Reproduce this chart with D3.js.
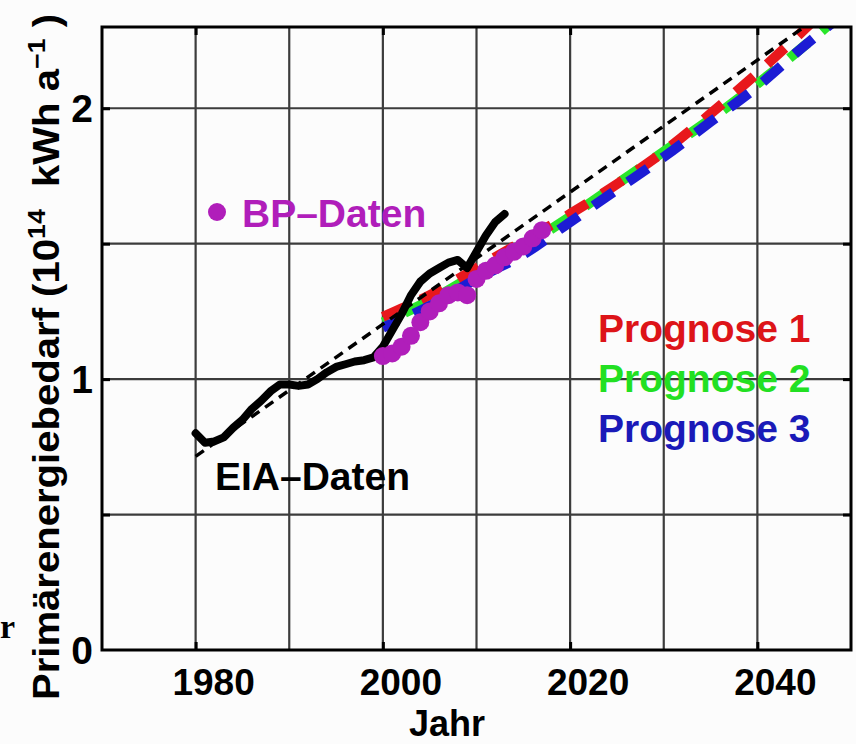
<!DOCTYPE html>
<html>
<head>
<meta charset="utf-8">
<script src="https://cdn.jsdelivr.net/npm/d3@7"></script>
<style>
  body { margin: 0; background: #fcfcfc; }
  text { font-family: "Liberation Sans", Arial, Helvetica, sans-serif; font-weight: bold; }
</style>
</head>
<body>
<div id="chart"></div>
<script>
// Variables
var svgW = 856;
var svgH = 744;

// EIA data (black line)
var eiaYears = [1980, 1981, 1982, 1983, 1984, 1985, 1986, 1987, 1988, 1989,
                1990, 1991, 1992, 1993, 1994, 1995, 1996, 1997, 1998, 1999,
                2000, 2001, 2002, 2003, 2004, 2005, 2006, 2007, 2008, 2009,
                2010, 2011, 2012, 2013];
var eiaValues = [0.80, 0.765, 0.77, 0.785, 0.82, 0.85, 0.89, 0.92, 0.955, 0.98,
                 0.98, 0.975, 0.98, 1.00, 1.025, 1.045, 1.055, 1.065, 1.07, 1.08,
                 1.12, 1.18, 1.24, 1.31, 1.36, 1.39, 1.41, 1.43, 1.44, 1.41,
                 1.47, 1.53, 1.58, 1.61];

// BP data (magenta dots)
var bpYears = [2000, 2001, 2002, 2003, 2004, 2005, 2006, 2007, 2008,
               2009, 2010, 2011, 2012, 2013, 2014, 2015, 2016, 2017];
var bpValues = [1.085, 1.095, 1.12, 1.16, 1.21, 1.25, 1.28, 1.31, 1.32,
                1.31, 1.37, 1.40, 1.42, 1.45, 1.47, 1.49, 1.52, 1.55];

// linear trend (thin dashed)
var trendYears = [1980, 2045];
var trendValues = [0.715, 2.30];

// forecasts
var progYears = [2000, 2005, 2010, 2015, 2020, 2025, 2030, 2035, 2040, 2045, 2050];
var prog1 = [1.23, 1.31, 1.41, 1.51, 1.61, 1.72, 1.84, 1.98, 2.13, 2.29, 2.46];
var prog2 = [1.21, 1.29, 1.39, 1.49, 1.60, 1.72, 1.84, 1.96, 2.09, 2.23, 2.38];
var prog3 = [1.19, 1.27, 1.37, 1.46, 1.58, 1.70, 1.82, 1.95, 2.08, 2.23, 2.37];

// axis ticks
var xLabelTicks = [1980, 2000, 2020, 2040];
var xGridTicks = [1980, 1990, 2000, 2010, 2020, 2030, 2040];
var yLabelTicks = [0, 1, 2];
var yGridTicks = [0.5, 1, 1.5, 2];

// scales
var x = d3.scaleLinear().domain([1970, 2050]).range([102, 851]);
var y = d3.scaleLinear().domain([0, 2.3]).range([650, 27]);

var svg = d3.select('#chart').append('svg')
    .attr('width', svgW)
    .attr('height', svgH)
    .style('background', '#fcfcfc');

svg.append('clipPath').attr('id', 'plotClip')
  .append('rect')
    .attr('x', x(1970)).attr('y', y(2.3))
    .attr('width', x(2050) - x(1970)).attr('height', y(0) - y(2.3));

// grid lines
svg.append('g').selectAll('line')
    .data(xGridTicks)
    .enter().append('line')
        .attr('x1', function (d) { return x(d); })
        .attr('x2', function (d) { return x(d); })
        .attr('y1', y(0)).attr('y2', y(2.3))
        .attr('stroke', '#3c3c3c').attr('stroke-width', 2.2);

svg.append('g').selectAll('line')
    .data(yGridTicks)
    .enter().append('line')
        .attr('y1', function (d) { return y(d); })
        .attr('y2', function (d) { return y(d); })
        .attr('x1', x(1970)).attr('x2', x(2050))
        .attr('stroke', '#3c3c3c').attr('stroke-width', 2.2);

// inward ticks on the frame via d3 axes
var tickLen = -8;
svg.append('g').attr('transform', 'translate(0,' + y(0) + ')')
    .call(d3.axisBottom(x).tickValues(xLabelTicks).tickSize(tickLen).tickFormat(''))
    .call(function (g) { g.select('.domain').remove(); })
    .selectAll('line').attr('stroke', '#000').attr('stroke-width', 3);
svg.append('g').attr('transform', 'translate(0,' + y(2.3) + ')')
    .call(d3.axisTop(x).tickValues(xLabelTicks).tickSize(tickLen).tickFormat(''))
    .call(function (g) { g.select('.domain').remove(); })
    .selectAll('line').attr('stroke', '#000').attr('stroke-width', 3);
svg.append('g').attr('transform', 'translate(' + x(1970) + ',0)')
    .call(d3.axisLeft(y).tickValues(yGridTicks).tickSize(tickLen).tickFormat(''))
    .call(function (g) { g.select('.domain').remove(); })
    .selectAll('line').attr('stroke', '#000').attr('stroke-width', 3);
svg.append('g').attr('transform', 'translate(' + x(2050) + ',0)')
    .call(d3.axisRight(y).tickValues(yGridTicks).tickSize(tickLen).tickFormat(''))
    .call(function (g) { g.select('.domain').remove(); })
    .selectAll('line').attr('stroke', '#000').attr('stroke-width', 3);

// plot layer
var plot = svg.append('g').attr('clip-path', 'url(#plotClip)');

var progLine = d3.line()
    .x(function (d) { return x(d[0]); })
    .y(function (d) { return y(d[1]); })
    .curve(d3.curveMonotoneX);

var progs = [
    { values: prog2, color: '#2ae62a', offset: 18 },
    { values: prog1, color: '#e8181c', offset: 0 },
    { values: prog3, color: '#1c1cd4', offset: 8 }
];
progs.forEach(function (p) {
    plot.append('path')
        .datum(progYears.map(function (yr, i) { return [yr, p.values[i]]; }))
        .attr('d', progLine)
        .attr('fill', 'none')
        .attr('stroke', p.color)
        .attr('stroke-width', 10)
        .attr('stroke-dasharray', '24,18')
        .attr('stroke-dashoffset', p.offset);
});

// trend line
var straight = d3.line()
    .x(function (d) { return x(d[0]); })
    .y(function (d) { return y(d[1]); });
plot.append('path')
    .datum(trendYears.map(function (yr, i) { return [yr, trendValues[i]]; }))
    .attr('d', straight)
    .attr('fill', 'none')
    .attr('stroke', '#000')
    .attr('stroke-width', 3.5)
    .attr('stroke-dasharray', '10,7');

// EIA line
plot.append('path')
    .datum(eiaYears.map(function (yr, i) { return [yr, eiaValues[i]]; }))
    .attr('d', straight)
    .attr('fill', 'none')
    .attr('stroke', '#000')
    .attr('stroke-width', 8)
    .attr('stroke-linejoin', 'round')
    .attr('stroke-linecap', 'round');

// BP dots
var magenta = '#b01eba';
plot.selectAll('circle.bp')
    .data(bpYears)
    .enter().append('circle')
        .attr('class', 'bp')
        .attr('cx', function (d) { return x(d); })
        .attr('cy', function (d, i) { return y(bpValues[i]); })
        .attr('r', 9)
        .attr('fill', magenta);

// frame
svg.append('rect')
    .attr('x', x(1970)).attr('y', y(2.3))
    .attr('width', x(2050) - x(1970)).attr('height', y(0) - y(2.3))
    .attr('fill', 'none').attr('stroke', '#000').attr('stroke-width', 3);

// tick labels
svg.append('g').selectAll('text')
    .data(xLabelTicks)
    .enter().append('text')
        .attr('x', function (d) { return x(d) + 18; })
        .attr('y', 695)
        .attr('text-anchor', 'middle')
        .attr('font-size', 37)
        .text(function (d) { return d; });

svg.append('g').selectAll('text')
    .data(yLabelTicks)
    .enter().append('text')
        .attr('x', 93)
        .attr('y', function (d) { return y(d) + 14; })
        .attr('text-anchor', 'end')
        .attr('font-size', 39)
        .text(function (d) { return d; });

// axis titles
svg.append('text')
    .attr('x', 447).attr('y', 736)
    .attr('text-anchor', 'middle')
    .attr('font-size', 36)
    .text('Jahr');

var yTitle = svg.append('text')
    .attr('transform', 'translate(59,357) rotate(-90)')
    .attr('text-anchor', 'middle')
    .attr('font-size', 36)
    .attr('textLength', 686)
    .attr('lengthAdjust', 'spacingAndGlyphs');
yTitle.append('tspan').text('Primärenergiebedarf (10');
yTitle.append('tspan').attr('dy', -14).attr('font-size', 24).text('14');
yTitle.append('tspan').attr('dy', 14).text('\u00a0 kWh a');
yTitle.append('tspan').attr('dy', -14).attr('font-size', 24).text('\u22121');
yTitle.append('tspan').attr('dy', 14).text(' )');

// legends / annotations
svg.append('circle')
    .attr('cx', 217).attr('cy', 212).attr('r', 9)
    .attr('fill', magenta);
svg.append('text')
    .attr('x', 242).attr('y', 227)
    .attr('font-size', 39)
    .attr('fill', magenta)
    .text('BP\u2013Daten');

svg.append('text')
    .attr('x', 215).attr('y', 490)
    .attr('font-size', 39)
    .attr('fill', '#000')
    .text('EIA\u2013Daten');

var legendNames = ['Prognose 1', 'Prognose 2', 'Prognose 3'];
var legendColors = ['#dd1418', '#22e022', '#1a1ab8'];
svg.append('g').selectAll('text')
    .data(legendNames)
    .enter().append('text')
        .attr('x', 598)
        .attr('y', function (d, i) { return 342 + i * 50; })
        .attr('font-size', 39)
        .attr('fill', function (d, i) { return legendColors[i]; })
        .text(function (d) { return d; });

// stray serif glyph at the left edge
svg.append('text')
    .attr('x', 0).attr('y', 638)
    .style('font-family', '"Liberation Serif", "Times New Roman", serif')
    .attr('font-size', 34)
    .text('r');
</script>
</body>
</html>
